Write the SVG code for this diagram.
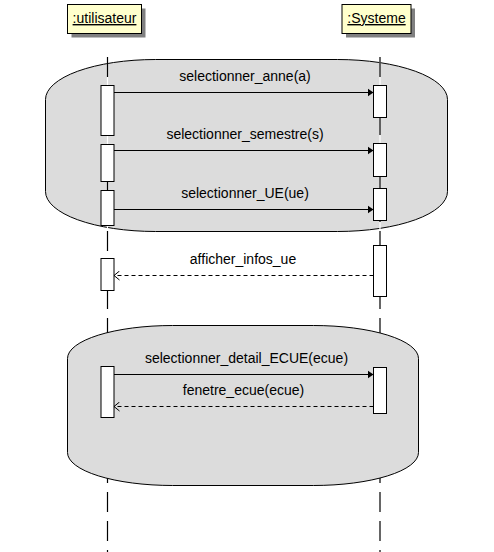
<svg xmlns="http://www.w3.org/2000/svg" width="494" height="552" viewBox="0 0 494 552">
<style>
text{font-family:"Liberation Sans",Arial,sans-serif;font-size:14px;fill:#000}
.frame{fill:#dcdcdc;stroke:#000;stroke-width:1}
.act{fill:#fff;stroke:#000;stroke-width:1}
.actor{fill:#ffffcc;stroke:#000;stroke-width:1}
.shadow{fill:#808080}
.life{stroke:#000;stroke-width:1.2;stroke-dasharray:20 9;fill:none}
.lifebg{stroke:#fff;stroke-width:1.2;fill:none}
.msg{stroke:#000;stroke-width:1;fill:none}
.ret{stroke:#000;stroke-width:1;stroke-dasharray:4 3;fill:none}
.lbl{text-anchor:middle}
</style>
<defs>
<marker id="filled" markerWidth="7" markerHeight="9" refX="6" refY="4.5" orient="auto" markerUnits="userSpaceOnUse">
<path d="M0,0.5 L6,4.5 L0,8.5 z" fill="#000"/>
</marker>
<marker id="open" markerWidth="8" markerHeight="10" refX="6" refY="5" orient="auto" markerUnits="userSpaceOnUse">
<path d="M0.5,0.5 L6,5 L0.5,9.5" fill="none" stroke="#000" stroke-width="1"/>
</marker>
</defs>

<g id="fragment1">
<rect class="frame" x="45.5" y="59.5" width="402" height="172" rx="110" ry="40"/>
</g>

<g id="lifelines">
<line class="lifebg" x1="107.5" y1="57" x2="107.5" y2="552"/>
<line class="life" x1="107.5" y1="57" x2="107.5" y2="552"/>
<line class="lifebg" x1="380" y1="57" x2="380" y2="552"/>
<line class="life" x1="380" y1="57" x2="380" y2="552"/>
</g>

<g id="fragment2">
<rect class="frame" x="67.5" y="325.5" width="351" height="160" rx="105" ry="33"/>
</g>

<g id="utilisateur">
<rect class="shadow" x="71.5" y="8.5" width="74" height="29"/>
<rect class="actor" x="67.5" y="4.5" width="74" height="29"/>
<text x="104.5" y="23" text-anchor="middle" text-decoration="underline">:utilisateur</text>
</g>

<g id="systeme">
<rect class="shadow" x="346" y="8.5" width="69" height="29"/>
<rect class="actor" x="342" y="4.5" width="69" height="29"/>
<text x="376.5" y="23" text-anchor="middle" text-decoration="underline">:Systeme</text>
</g>

<g id="activations-utilisateur">
<rect class="act" x="101" y="85.5" width="13" height="50"/>
<rect class="act" x="101" y="144.5" width="13" height="37"/>
<rect class="act" x="101" y="190.5" width="13" height="35"/>
<rect class="act" x="101" y="258.5" width="13" height="32"/>
<rect class="act" x="101" y="366.5" width="13" height="51"/>
</g>

<g id="activations-systeme">
<rect class="act" x="373.5" y="85.5" width="13" height="32"/>
<rect class="act" x="373.5" y="143.5" width="13" height="33"/>
<rect class="act" x="373.5" y="188.5" width="13" height="32"/>
<rect class="act" x="373.5" y="245.5" width="13" height="51"/>
<rect class="act" x="373.5" y="367.5" width="13" height="46"/>
</g>

<g id="connectors">
<line class="msg" x1="114" y1="92.5" x2="373.5" y2="92.5" marker-end="url(#filled)"/>
<line class="msg" x1="114" y1="150.5" x2="373.5" y2="150.5" marker-end="url(#filled)"/>
<line class="msg" x1="114" y1="209.5" x2="373.5" y2="209.5" marker-end="url(#filled)"/>
<line class="ret" x1="373.5" y1="275.5" x2="114" y2="275.5" marker-end="url(#open)"/>
<line class="msg" x1="114" y1="374.5" x2="373.5" y2="374.5" marker-end="url(#filled)"/>
<line class="ret" x1="373.5" y1="406.5" x2="114" y2="406.5" marker-end="url(#open)"/>
</g>

<g id="labels">
<text class="lbl" x="245" y="81">selectionner_anne(a)</text>
<text class="lbl" x="245" y="139">selectionner_semestre(s)</text>
<text class="lbl" x="245" y="198">selectionner_UE(ue)</text>
<text class="lbl" x="243" y="264">afficher_infos_ue</text>
<text class="lbl" x="246.5" y="363">selectionner_detail_ECUE(ecue)</text>
<text class="lbl" x="243.5" y="395">fenetre_ecue(ecue)</text>
</g>
</svg>
